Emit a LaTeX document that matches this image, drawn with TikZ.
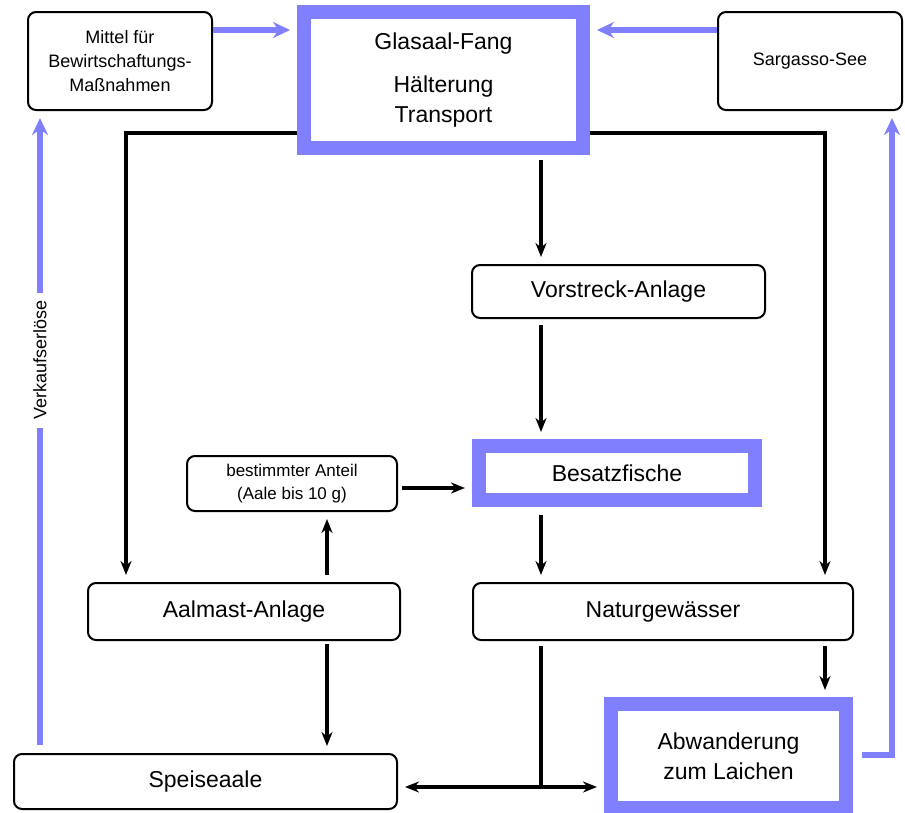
\documentclass[tikz,border=0pt]{standalone}
\usepackage{fontspec}
\setmainfont{Liberation Sans}
\usetikzlibrary{arrows.meta}
\definecolor{flowblue}{HTML}{8080FF}

\begin{document}
\begin{tikzpicture}[x=1pt,y=-1pt,
    box/.style={draw,rounded corners=8pt,line width=2pt,align=center,
      font=\fontsize{23}{29}\selectfont},
    smallbox/.style={box,font=\fontsize{18}{24}\selectfont},
    bluebox/.style={draw=flowblue,line width=14pt,align=center,
      font=\fontsize{23}{30}\selectfont},
    flow/.style={line width=3.2pt,-{Stealth[length=14pt,width=11pt]},shorten >=7pt},
    money/.style={draw=flowblue,line width=5.5pt,-{Stealth[length=17pt,width=16pt]},shorten >=7pt}]
  \useasboundingbox (0,0) rectangle (905,812);
  \draw
    (443.5,80) node[bluebox,minimum width=279pt,minimum height=136pt] (glasaal){Glasaal-Fang\\[13pt]Hälterung\\Transport}
    (120,61) node[smallbox,minimum width=184pt,minimum height=98pt] (mittel){Mittel für\\Bewirtschaftungs-\\Maßnahmen}
    (810,61) node[smallbox,minimum width=184pt,minimum height=98pt] (sargasso){Sargasso-See}
    (618.5,291.5) node[box,minimum width=293pt,minimum height=53pt] (vorstreck){Vorstreck-Anlage}
    (617,473) node[bluebox,minimum width=276pt,minimum height=54pt] (besatz){Besatzfische}
    (292,483.5) node[box,font=\fontsize{17}{23}\selectfont,minimum width=210pt,minimum height=55pt] (anteil){bestimmter Anteil\\(Aale bis 10 g)}
    (244,611.5) node[box,minimum width=312pt,minimum height=57pt] (aalmast){Aalmast-Anlage}
    (663,611.5) node[box,minimum width=380pt,minimum height=57pt] (naturgew){Naturgewässer}
    (728.5,756) node[bluebox,minimum width=235pt,minimum height=104pt] (abwand){Abwanderung\\zum Laichen}
    (205.5,781.5) node[box,minimum width=383pt,minimum height=55pt] (speise){Speiseaale};
  \coordinate (split) at (541,787);
  % Geldfluss
  \draw[money] (mittel.east |- 0,30) -- (glasaal.west |- 0,30);
  \draw[money] (sargasso.west |- 0,30) -- (glasaal.east |- 0,30);
  \draw[money,shorten <=9pt] (abwand.east |- 0,755) -| (sargasso.south -| 892,0);
  \draw[money,shorten <=8pt] (speise.north -| 40,0) --
    node[pos=0.612,rotate=90,fill=white,inner xsep=8pt,font=\fontsize{18}{20}\selectfont] (erloese){Verkaufserlöse}
    (mittel.south -| 40,0);
  % Aale
  \begin{scope}[flow]
    \draw (glasaal.west |- 0,133) -| (aalmast.north -| 126,0);
    \draw (glasaal.east |- 0,133) -| (naturgew.north -| 825,0);
    \draw[shorten <=5pt] (glasaal.south -| 541,0) -- (vorstreck.north -| 541,0);
    \draw[shorten <=6pt] (vorstreck.south -| 541,0) -- (besatz.north -| 541,0);
    \draw[shorten <=8pt] (besatz.south -| 541,0) -- (naturgew.north -| 541,0);
    \draw[shorten <=7pt] (aalmast.north -| 327,0) -- (anteil.south -| 327,0);
    \draw[shorten <=4pt] (anteil.east |- 0,488) -- (besatz.west |- 0,488);
    \draw[shorten <=3pt] (aalmast.south -| 327,0) -- (speise.north -| 327,0);
    \draw[shorten <=5pt] (naturgew.south -| 825,0) -- (abwand.north -| 825,0);
    \draw (split) -- (speise.east |- split);
    \draw (split) -- (abwand.west |- split);
  \end{scope}
  \draw[line width=3.2pt,shorten <=5pt] (naturgew.south -| split) -- (split);
\end{tikzpicture}
\end{document}
